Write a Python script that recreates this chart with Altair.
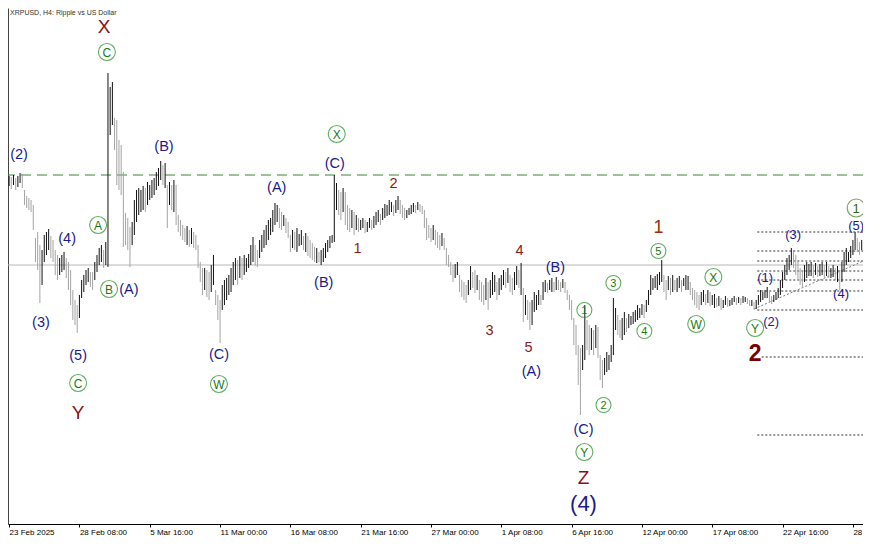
import altair as alt
import pandas as pd

# ---------------- data (H4 bars, XRPUSD) ----------------
bar_high = [
    2.576,2.572,2.580,2.568,2.576,2.588,2.584,2.520,2.496,2.488,
    2.480,2.460,2.328,2.352,2.300,2.280,2.340,2.352,2.364,2.336,
    2.320,2.280,2.260,2.248,2.260,2.272,2.248,2.232,2.200,2.120,
    2.080,2.060,2.100,2.160,2.180,2.200,2.208,2.192,2.192,2.232,
    2.260,2.288,2.300,2.280,2.312,2.988,2.932,2.952,2.808,2.800,
    2.720,2.700,2.592,2.428,2.408,2.372,2.392,2.480,2.520,2.528,
    2.520,2.536,2.528,2.552,2.540,2.560,2.568,2.592,2.608,2.636,
    2.620,2.628,2.540,2.552,2.540,2.560,2.540,2.420,2.400,2.380,
    2.368,2.376,2.360,2.368,2.352,2.340,2.300,2.232,2.208,2.208,
    2.200,2.192,2.220,2.260,2.120,2.100,2.080,2.140,2.160,2.168,
    2.180,2.208,2.232,2.248,2.240,2.256,2.248,2.260,2.248,2.264,
    2.300,2.332,2.300,2.280,2.320,2.340,2.360,2.380,2.400,2.408,
    2.440,2.468,2.460,2.448,2.432,2.420,2.408,2.392,2.340,2.360,
    2.352,2.368,2.344,2.360,2.336,2.348,2.336,2.320,2.308,2.292,
    2.288,2.272,2.280,2.288,2.308,2.320,2.336,2.340,2.580,2.548,
    2.520,2.512,2.528,2.512,2.460,2.448,2.440,2.432,2.420,2.408,
    2.400,2.408,2.400,2.392,2.408,2.400,2.416,2.432,2.440,2.424,
    2.448,2.464,2.460,2.480,2.472,2.460,2.480,2.496,2.480,2.460,
    2.448,2.440,2.448,2.460,2.468,2.460,2.472,2.464,2.456,2.440,
    2.408,2.380,2.368,2.380,2.360,2.352,2.340,2.348,2.328,2.288,
    2.260,2.232,2.220,2.224,2.232,2.180,2.160,2.152,2.140,2.160,
    2.216,2.192,2.200,2.180,2.160,2.152,2.140,2.168,2.152,2.160,
    2.192,2.180,2.152,2.168,2.180,2.200,2.192,2.208,2.180,2.168,
    2.192,2.216,2.200,2.228,2.128,2.100,2.080,2.072,2.080,2.112,
    2.100,2.120,2.100,2.152,2.160,2.148,2.160,2.168,2.152,2.172,
    2.160,2.152,2.164,2.152,2.120,2.100,2.080,2.008,1.980,1.900,
    1.888,1.900,2.060,2.000,1.980,1.968,1.960,1.980,1.972,1.860,
    1.840,1.848,1.872,1.860,1.900,2.088,2.048,2.020,2.000,2.008,
    2.032,2.008,2.024,2.016,2.032,2.040,2.060,2.048,2.064,2.060,
    2.080,2.120,2.180,2.168,2.176,2.184,2.192,2.240,2.180,2.160,
    2.176,2.168,2.180,2.160,2.168,2.176,2.160,2.168,2.180,2.176,
    2.152,2.128,2.120,2.112,2.100,2.112,2.120,2.104,2.120,2.112,
    2.100,2.104,2.088,2.096,2.088,2.080,2.096,2.088,2.080,2.088,
    2.096,2.088,2.092,2.088,2.096,2.092,2.088,2.080,2.080,2.072,
    2.080,2.100,2.120,2.112,2.120,2.132,2.120,2.096,2.100,2.112,
    2.128,2.160,2.192,2.220,2.248,2.260,2.288,2.280,2.260,2.232,
    2.208,2.192,2.220,2.232,2.224,2.232,2.220,2.228,2.216,2.224,
    2.232,2.220,2.232,2.216,2.208,2.220,2.208,2.216,2.200,2.232,
    2.272,2.288,2.272,2.296,2.320,2.352,2.328,2.312,2.320,2.304,
    2.316,2.300,2.308,2.296,2.304,
]
bar_low = [
    2.536,2.524,2.540,2.520,2.532,2.548,2.528,2.460,2.448,2.440,
    2.432,2.360,2.232,2.200,2.068,2.140,2.232,2.260,2.280,2.248,
    2.232,2.180,2.160,2.180,2.192,2.200,2.168,2.120,2.060,2.000,
    1.980,1.948,2.008,2.088,2.112,2.140,2.152,2.132,2.120,2.160,
    2.192,2.220,2.232,2.208,2.220,2.212,2.740,2.780,2.680,2.540,
    2.520,2.500,2.292,2.300,2.280,2.212,2.300,2.340,2.392,2.420,
    2.432,2.440,2.432,2.460,2.480,2.488,2.500,2.520,2.536,2.560,
    2.540,2.528,2.368,2.460,2.440,2.432,2.380,2.352,2.336,2.320,
    2.312,2.300,2.292,2.304,2.288,2.280,2.208,2.152,2.100,2.120,
    2.092,2.080,2.112,2.140,2.060,2.000,1.908,2.040,2.060,2.080,
    2.100,2.112,2.140,2.160,2.140,2.168,2.160,2.180,2.192,2.208,
    2.220,2.232,2.216,2.212,2.248,2.272,2.288,2.300,2.320,2.340,
    2.352,2.380,2.392,2.368,2.360,2.376,2.348,2.328,2.272,2.288,
    2.280,2.272,2.296,2.300,2.280,2.272,2.256,2.248,2.240,2.232,
    2.228,2.232,2.220,2.232,2.248,2.272,2.288,2.308,2.312,2.440,
    2.420,2.400,2.432,2.380,2.360,2.352,2.368,2.340,2.360,2.352,
    2.360,2.368,2.348,2.352,2.368,2.360,2.368,2.380,2.392,2.380,
    2.400,2.408,2.416,2.420,2.432,2.416,2.428,2.440,2.424,2.408,
    2.400,2.408,2.420,2.424,2.432,2.428,2.440,2.432,2.424,2.368,
    2.320,2.328,2.312,2.320,2.300,2.288,2.280,2.296,2.280,2.220,
    2.212,2.180,2.152,2.168,2.180,2.112,2.092,2.080,2.068,2.100,
    2.120,2.128,2.108,2.120,2.080,2.072,2.060,2.080,2.040,2.088,
    2.100,2.112,2.080,2.100,2.120,2.140,2.128,2.148,2.112,2.100,
    2.120,2.140,2.128,2.100,1.992,2.020,2.000,1.960,1.980,2.032,
    2.040,2.060,2.060,2.080,2.112,2.108,2.120,2.112,2.112,2.120,
    2.120,2.112,2.128,2.108,2.080,2.040,2.000,1.900,1.860,1.740,
    1.620,1.800,1.840,1.880,1.860,1.880,1.860,1.888,1.848,1.760,
    1.728,1.780,1.792,1.800,1.832,1.860,1.960,1.940,1.928,1.920,
    1.940,1.952,1.968,1.980,1.984,1.992,2.000,2.008,2.020,2.008,
    2.032,2.060,2.100,2.120,2.128,2.120,2.140,2.152,2.112,2.080,
    2.120,2.100,2.112,2.120,2.112,2.128,2.112,2.136,2.120,2.120,
    2.100,2.080,2.060,2.048,2.040,2.060,2.072,2.060,2.068,2.056,
    2.060,2.048,2.052,2.056,2.040,2.048,2.060,2.052,2.056,2.060,
    2.072,2.060,2.068,2.060,2.068,2.072,2.064,2.056,2.056,2.040,
    2.044,2.060,2.072,2.080,2.088,2.088,2.072,2.064,2.072,2.080,
    2.088,2.100,2.128,2.160,2.180,2.200,2.220,2.208,2.180,2.160,
    2.140,2.128,2.152,2.168,2.176,2.176,2.168,2.180,2.172,2.176,
    2.180,2.168,2.176,2.168,2.168,2.172,2.160,2.152,2.120,2.152,
    2.192,2.220,2.232,2.248,2.260,2.280,2.272,2.260,2.280,2.260,
    2.272,2.260,2.268,2.264,2.272,
]
assert len(bar_high) == len(bar_low)

time_labels = ["23 Feb 2025", "28 Feb 08:00", "5 Mar 16:00", "11 Mar 00:00",
               "16 Mar 08:00", "21 Mar 16:00", "27 Mar 00:00", "1 Apr 08:00",
               "6 Apr 16:00", "12 Apr 00:00", "17 Apr 08:00", "22 Apr 16:00",
               "28 Apr 00:00"]
bars_per_label = 32

chart_title = "XRPUSD, H4:  Ripple vs US Dollar"

dashed_level = [2.58]
current_level = [2.22]

fib_levels = [2.352, 2.276, 2.236, 2.196, 2.16, 2.116, 2.04, 1.852, 1.54]
fib_from = [340.5, 340.5, 340.5, 340.5, 340.5, 340.5, 340.5, 342.5, 340.5]
fib_to = 400

trend_idx = [339, 395]
trend_price = [2.044, 2.26]

wave_text = ["(2)", "X", "C", "(B)", "(4)", "A", "(3)", "B", "(A)", "(5)", "C", "Y",
             "(A)", "(C)", "W", "(C)", "X", "(B)", "1", "2", "3", "4", "5", "(B)",
             "(A)", "1", "(C)", "Y", "Z", "(4)", "2", "3", "4", "1", "5", "X", "W",
             "Y", "(2)", "(1)", "(3)", "(4)", "(5)", "1", "2"]
wave_idx = [4.5, 43.2, 44.5, 70.5, 26.4, 40.5, 14.5, 45.5, 54.5, 31.4, 31.4, 31.4,
            121.8, 95.5, 95.5, 148.2, 149.1, 143.2, 158.6, 175, 218.6, 232.3, 236.4, 248.6,
            237.7, 261.8, 261.4, 261.8, 261.4, 261.4, 270.5, 275, 289.1, 295.5, 295.5, 320.5, 312.7,
            339.5, 346.8, 344.1, 356.8, 378.6, 385.5, 385.5, 339.5]
wave_price = [2.664, 3.176, 3.072, 2.696, 2.328, 2.38, 1.992, 2.124, 2.124, 1.86, 1.748, 1.632,
              2.532, 1.864, 1.744, 2.628, 2.744, 2.152, 2.288, 2.548, 1.96, 2.28, 1.892, 2.212,
              1.796, 2.04, 1.564, 1.472, 1.372, 1.268, 1.66, 2.148, 1.956, 2.372, 2.276, 2.172, 1.984,
              1.968, 1.996, 2.172, 2.344, 2.108, 2.38, 2.448, 1.868]
wave_style = ["navy", "maroon", "circle", "navy", "navy", "circle", "navy", "circle", "navy", "navy", "circle", "maroon",
              "navy", "navy", "circle", "navy", "circle", "navy", "red", "red", "red", "red", "red", "navy",
              "navy", "circle_s", "navy", "circle", "maroon", "navy_l", "circle_s", "circle_s", "circle_s", "orange", "circle_s", "circle", "circle",
              "circle", "navy_s", "navy_s", "navy_s", "navy_s", "navy_s", "circle_dk", "red_l"]
assert len(wave_text) == len(wave_idx) == len(wave_price) == len(wave_style)

# ---------------- styles ----------------
styles = {
    "navy":      dict(color="#1a1a8c", size=14.5, weight="normal", ring=0, ringc="#000"),
    "navy_s":    dict(color="#1a1a8c", size=13, weight="normal", ring=0, ringc="#000"),
    "navy_l":    dict(color="#1a1a8c", size=22, weight="normal", ring=0, ringc="#000"),
    "maroon":    dict(color="#8b0f0f", size=19, weight="normal", ring=0, ringc="#000"),
    "red":       dict(color="#8b1a1a", size=14.5, weight="normal", ring=0, ringc="#000"),
    "red_l":     dict(color="#7a0000", size=23, weight="bold", ring=0, ringc="#000"),
    "orange":    dict(color="#a0300a", size=18, weight="normal", ring=0, ringc="#000"),
    "circle":    dict(color="#157a15", size=12, weight="normal", ring=17, ringc="#1f8c1f"),
    "circle_s":  dict(color="#157a15", size=11, weight="normal", ring=15, ringc="#1f8c1f"),
    "circle_dk": dict(color="#2f6a10", size=13, weight="normal", ring=18, ringc="#3a7a10"),
}

n = len(bar_high)
mids = [(h + l) / 2 for h, l in zip(bar_high, bar_low)]
bars = pd.DataFrame({
    "idx": list(range(n)),
    "high": bar_high,
    "low": bar_low,
    "dir": ["up" if k == 0 or mids[k] >= mids[k - 1] - 0.004 else "down" for k in range(n)],
})

ann = pd.DataFrame({
    "text": wave_text, "idx": wave_idx, "price": wave_price,
    "color": [styles[s]["color"] for s in wave_style],
    "size": [styles[s]["size"] for s in wave_style],
    "weight": [styles[s]["weight"] for s in wave_style],
    "ring": [styles[s]["ring"] ** 2 for s in wave_style],
    "ringc": [styles[s]["ringc"] for s in wave_style],
})
rings = ann[ann["ring"] > 0]
ann_norm = ann[ann["weight"] == "normal"]
ann_bold = ann[ann["weight"] == "bold"]

xs = alt.Scale(domain=[-0.5, 388.6], nice=False, zero=False)
ys = alt.Scale(domain=[1.184, 3.248], nice=False, zero=False)

label_js = "[" + ",".join("'%s'" % s for s in time_labels) + "]"
x_axis = alt.Axis(values=[k * bars_per_label for k in range(len(time_labels))],
                  labelExpr=label_js + "[round(datum.value/%d)]" % bars_per_label,
                  title=None, grid=False, tickSize=3, labelAlign="left",
                  labelFontSize=8, labelFont="Liberation Sans", labelColor="#000",
                  domainColor="#000", tickColor="#000", labelPadding=1,
                  labelOverlap=False, labelFlush=False, labelBound=False)
y_axis = alt.Axis(labels=False, ticks=False, grid=False, title=None, domainColor="#444")


def X(f):
    return alt.X(f, type="quantitative", scale=xs, axis=x_axis)


def Y(f):
    return alt.Y(f, type="quantitative", scale=ys, axis=y_axis)


bar_layer = alt.Chart(bars).mark_rule(strokeWidth=1, clip=True).encode(
    x=X("idx"), y=Y("high"), y2="low",
    color=alt.Color("dir:N", scale=alt.Scale(domain=["up", "down"], range=["#111111", "#a4a4a4"]), legend=None),
)

dash_layer = alt.Chart(pd.DataFrame({"price": dashed_level})).mark_rule(
    color="#3f7f3f", strokeDash=[10, 6], strokeWidth=1).encode(y=Y("price"))
cur_layer = alt.Chart(pd.DataFrame({"price": current_level})).mark_rule(
    color="#b8b8b8", strokeWidth=1).encode(y=Y("price"))

fib_df = pd.DataFrame({"price": fib_levels, "idx": fib_from, "idx2": [fib_to] * len(fib_levels)})
fib_layer = alt.Chart(fib_df).mark_rule(color="#333333", strokeDash=[2, 2], strokeWidth=1, clip=True).encode(
    x=X("idx"), x2="idx2", y=Y("price"))

trend_df = pd.DataFrame({"idx": [trend_idx[0]], "idx2": [trend_idx[1]],
                         "price": [trend_price[0]], "price2": [trend_price[1]]})
trend_layer = alt.Chart(trend_df).mark_rule(color="#7a7a7a", strokeDash=[2, 2], strokeWidth=1, clip=True).encode(
    x=X("idx"), x2="idx2", y=Y("price"), y2="price2")

ring_layer = alt.Chart(rings).mark_point(shape="circle", filled=False, strokeWidth=1.1).encode(
    x=X("idx"), y=Y("price"),
    size=alt.Size("ring:Q", scale=None),
    color=alt.Color("ringc:N", scale=None))

text_layer = alt.Chart(ann_norm).mark_text(font="Liberation Sans", baseline="middle", align="center", dy=0.5).encode(
    x=X("idx"), y=Y("price"), text="text:N",
    color=alt.Color("color:N", scale=None), size=alt.Size("size:Q", scale=None))
bold_layer = alt.Chart(ann_bold).mark_text(font="Liberation Sans", baseline="middle", align="center",
                                            fontWeight="bold", dy=0.5).encode(
    x=X("idx"), y=Y("price"), text="text:N",
    color=alt.Color("color:N", scale=None), size=alt.Size("size:Q", scale=None))

title_layer = alt.Chart(pd.DataFrame({"t": [chart_title]})).mark_text(
    font="Liberation Sans", fontSize=7, color="#333333", align="left", baseline="middle").encode(
    text="t:N", x=alt.value(2), y=alt.value(4.5))

chart = alt.layer(
    cur_layer, dash_layer, fib_layer, trend_layer, bar_layer, ring_layer, text_layer, bold_layer, title_layer
).properties(
    width=855, height=516,
    padding={"left": 0, "top": 0, "right": 0, "bottom": 13},
    autosize=alt.AutoSizeParams(type="none"),
    background="white",
).configure_view(stroke=None)

chart.save("out.html", embed_options={"renderer": "svg", "actions": False})
